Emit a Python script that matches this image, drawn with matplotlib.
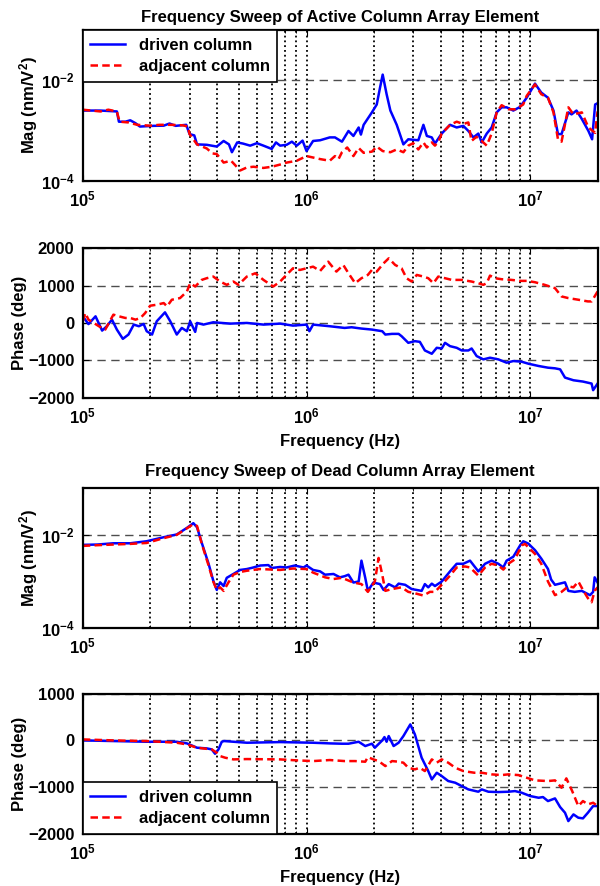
import matplotlib
matplotlib.use('Agg')
import matplotlib.pyplot as plt
from matplotlib.ticker import LogLocator, FixedLocator, FuncFormatter, NullFormatter

plt.rcParams['font.family'] = ['Liberation Sans', 'DejaVu Sans']
plt.rcParams['font.weight'] = 'bold'
plt.rcParams['mathtext.fontset'] = 'custom'
for k in ['rm', 'bf', 'it', 'sf']:
    plt.rcParams['mathtext.' + k] = 'Liberation Sans:bold'
plt.rcParams['mathtext.default'] = 'rm'

# ---- Active column: magnitude (nm/V^2) ----
f_am_drv = [1.0e5, 1.2e5, 1.42e5, 1.45e5, 1.55e5, 1.63e5, 1.72e5, 1.8e5, 2.07e5, 2.3e5, 2.44e5, 2.6e5,
            2.9e5, 3.0e5, 3.15e5, 3.24e5, 3.58e5, 3.97e5, 4.26e5, 4.5e5, 4.64e5, 4.9e5, 5.2e5, 5.6e5,
            6.0e5, 6.42e5, 6.99e5, 7.3e5, 7.62e5, 8.15e5, 8.6e5, 9.04e5, 9.6e5, 1.0e6, 1.07e6, 1.15e6,
            1.27e6, 1.34e6, 1.44e6, 1.54e6, 1.62e6, 1.71e6, 1.75e6, 1.8e6, 1.96e6, 2.06e6, 2.13e6,
            2.19e6, 2.28e6, 2.37e6, 2.53e6, 2.71e6, 2.85e6, 3.16e6, 3.33e6, 3.45e6, 3.63e6, 3.75e6,
            4.02e6, 4.38e6, 4.69e6, 5.02e6, 5.29e6, 5.57e6, 5.86e6, 6.07e6, 6.39e6, 6.72e6, 7.08e6,
            7.45e6, 7.84e6, 8.4e6, 9.0e6, 9.64e6, 1.05e7, 1.12e7, 1.2e7, 1.27e7, 1.33e7, 1.38e7,
            1.48e7, 1.53e7, 1.61e7, 1.7e7, 1.82e7, 1.89e7, 1.95e7, 2.0e7]
m_am_drv = [2.5e-3, 2.5e-3, 2.4e-3, 1.5e-3, 1.5e-3, 1.6e-3, 1.4e-3, 1.2e-3, 1.24e-3, 1.25e-3, 1.38e-3, 1.24e-3,
            1.3e-3, 8.5e-4, 8e-4, 5.3e-4, 5.2e-4, 4.8e-4, 6.2e-4, 5.3e-4, 3.7e-4, 5.8e-4, 5.5e-4, 5.0e-4,
            5.6e-4, 5.0e-4, 4.3e-4, 5.8e-4, 5.0e-4, 5.2e-4, 6.0e-4, 5.0e-4, 6.3e-4, 3.9e-4, 6.2e-4, 6.4e-4,
            7.3e-4, 7.3e-4, 6.0e-4, 9.8e-4, 7.8e-4, 1.15e-3, 8.3e-4, 1.3e-3, 2.3e-3, 3.3e-3, 7.1e-3,
            1.3e-2, 5.3e-3, 2.5e-3, 1.3e-3, 5.3e-4, 6.7e-4, 6.4e-4, 1.3e-3, 7.8e-4, 7.3e-4, 5.5e-4,
            8.7e-4, 1.3e-3, 1.15e-3, 1.24e-3, 9.8e-4, 7.3e-4, 8.7e-4, 5.8e-4, 8.7e-4, 1.15e-3, 2.3e-3,
            2.9e-3, 2.9e-3, 2.5e-3, 2.95e-3, 4.5e-3, 8.6e-3, 5.7e-3, 4.5e-3, 2.5e-3, 8.5e-4, 8.5e-4,
            2.3e-3, 2.1e-3, 2.5e-3, 1.7e-3, 9.8e-4, 6.7e-4, 3.3e-3, 3.5e-3]
f_am_adj = [1.0e5, 1.2e5, 1.3e5, 1.42e5, 1.46e5, 1.6e5, 1.75e5, 2.0e5, 2.2e5, 2.5e5, 2.8e5, 2.95e5,
            3.0e5, 3.24e5, 3.58e5, 3.8e5, 3.97e5, 4.26e5, 4.6e5, 5.05e5, 5.41e5, 5.79e5, 6.42e5, 6.99e5,
            7.62e5, 8.15e5, 9.04e5, 1.0e6, 1.07e6, 1.15e6, 1.27e6, 1.34e6, 1.39e6, 1.44e6, 1.52e6,
            1.62e6, 1.71e6, 1.8e6, 1.96e6, 2.06e6, 2.19e6, 2.37e6, 2.53e6, 2.71e6, 2.85e6, 3.0e6,
            3.16e6, 3.33e6, 3.45e6, 3.63e6, 3.75e6, 3.9e6, 4.02e6, 4.38e6, 4.69e6, 5.02e6, 5.29e6,
            5.46e6, 5.75e6, 6.07e6, 6.39e6, 6.72e6, 7.08e6, 7.45e6, 8.0e6, 8.6e6, 9.3e6, 9.64e6,
            1.05e7, 1.12e7, 1.2e7, 1.27e7, 1.33e7, 1.38e7, 1.48e7, 1.56e7, 1.7e7, 1.82e7, 1.95e7, 2.0e7]
m_am_adj = [2.6e-3, 2.4e-3, 2.6e-3, 2.4e-3, 1.5e-3, 1.45e-3, 1.3e-3, 1.25e-3, 1.3e-3, 1.3e-3, 1.27e-3, 1.2e-3,
            8.5e-4, 5.3e-4, 4.4e-4, 3.5e-4, 3.4e-4, 2.3e-4, 2.5e-4, 1.6e-4, 1.84e-4, 1.9e-4, 1.8e-4, 1.9e-4,
            2.1e-4, 2.3e-4, 2.5e-4, 3.1e-4, 2.9e-4, 2.7e-4, 2.5e-4, 3.1e-4, 2.7e-4, 3.7e-4, 4.6e-4,
            3.1e-4, 4.5e-4, 3.6e-4, 3.8e-4, 4.8e-4, 3.9e-4, 3.7e-4, 4.2e-4, 3.7e-4, 5.0e-4, 5.6e-4,
            4.2e-4, 5.8e-4, 4.6e-4, 5.8e-4, 5.0e-4, 6.2e-4, 8.7e-4, 1.3e-3, 1.5e-3, 1.35e-3, 1.45e-3,
            6.2e-4, 7.5e-4, 6.2e-4, 5.0e-4, 8.7e-4, 2.3e-3, 3.2e-3, 2.65e-3, 2.65e-3, 3.3e-3, 4.9e-3,
            8.3e-3, 5.3e-3, 4.5e-3, 2.3e-3, 6.7e-4, 6.0e-4, 2.9e-3, 2.1e-3, 2.3e-3, 1.15e-3, 9.0e-4, 2.4e-3]

# ---- Active column: phase (deg) ----
f_ap_drv = [1.0e5, 1.06e5, 1.14e5, 1.22e5, 1.28e5, 1.35e5, 1.42e5, 1.51e5, 1.6e5, 1.69e5, 1.78e5, 1.87e5,
            1.93e5, 2.04e5, 2.14e5, 2.33e5, 2.46e5, 2.63e5, 2.77e5, 2.92e5, 3.02e5, 3.18e5, 3.24e5,
            3.46e5, 3.83e5, 4.56e5, 5.41e5, 6.42e5, 7.62e5, 8.7e5, 1.0e6, 1.03e6, 1.07e6, 1.27e6,
            1.48e6, 1.59e6, 1.76e6, 1.96e6, 2.18e6, 2.25e6, 2.41e6, 2.58e6, 2.66e6, 2.85e6, 3.05e6,
            3.21e6, 3.38e6, 3.63e6, 3.82e6, 4.02e6, 4.16e6, 4.38e6, 4.69e6, 4.94e6, 5.29e6, 5.47e6,
            5.76e6, 6.17e6, 6.61e6, 7.2e6, 7.84e6, 8.4e6, 9.15e6, 9.8e6, 1.09e7, 1.2e7, 1.29e7,
            1.36e7, 1.43e7, 1.56e7, 1.72e7, 1.88e7, 1.91e7, 2.0e7]
p_ap_drv = [177, -30, 177, -204, -88, 88, -177, -425, -310, -44, -88, -27,
            -221, -310, 44, 283, 44, -310, -133, -221, 44, -239, 0,
            -44, 18, -18, 0, -44, -18, -71, -44, -221, -44, -88,
            -133, -115, -150, -177, -221, -310, -292, -292, -354, -531, -487,
            -505, -735, -823, -664, -682, -531, -620, -664, -735, -735, -682,
            -885, -973, -929, -973, -1062, -1018, -1035, -1088, -1150, -1195, -1212,
            -1239, -1460, -1531, -1566, -1619, -1796, -1619]
f_ap_adj = [1.0e5, 1.026e5, 1.06e5, 1.12e5, 1.18e5, 1.26e5, 1.37e5, 1.45e5, 1.55e5, 1.63e5, 1.72e5, 1.81e5,
            1.9e5, 2.0e5, 2.14e5, 2.3e5, 2.38e5, 2.5e5, 2.72e5, 2.92e5, 3.02e5, 3.18e5, 3.4e5, 3.58e5,
            3.83e5, 4.11e5, 4.4e5, 4.71e5, 4.96e5, 5.41e5, 5.9e5, 6.42e5, 7.1e5, 7.62e5, 8.0e5, 8.7e5,
            9.35e5, 1.0e6, 1.07e6, 1.15e6, 1.25e6, 1.36e6, 1.46e6, 1.54e6, 1.65e6, 1.76e6, 1.88e6,
            1.96e6, 2.06e6, 2.21e6, 2.33e6, 2.49e6, 2.66e6, 2.8e6, 2.95e6, 3.11e6, 3.33e6, 3.5e6,
            3.69e6, 3.88e6, 4.16e6, 4.46e6, 4.94e6, 5.47e6, 5.86e6, 6.17e6, 6.39e6, 6.61e6, 6.96e6,
            7.45e6, 8.25e6, 9.0e6, 9.64e6, 1.05e7, 1.16e7, 1.29e7, 1.38e7, 1.48e7, 1.64e7, 1.81e7,
            1.88e7, 2.0e7]
p_ap_adj = [44, 265, 88, 0, -88, -177, 221, 177, 133, 133, 88, 133,
            265, 460, 487, 531, 443, 620, 664, 840, 1062, 973, 1150, 1195,
            1239, 1106, 1018, 1106, 1018, 1239, 1327, 1150, 973, 1106, 1239, 1460,
            1416, 1460, 1504, 1389, 1637, 1372, 1549, 1327, 1062, 1195, 1283,
            1416, 1372, 1593, 1726, 1549, 1460, 1195, 1106, 1283, 1239, 1195,
            1062, 1239, 1195, 1150, 1150, 1106, 1062, 1018, 1062, 1265, 1195,
            1168, 1150, 1124, 1124, 1088, 1018, 929, 708, 664, 620, 575,
            575, 840]

# ---- Dead column: magnitude (nm/V^2) ----
f_dm_drv = [1.0e5, 1.16e5, 1.37e5, 1.63e5, 1.93e5, 2.3e5, 2.63e5, 2.92e5, 3.12e5, 3.24e5, 3.4e5, 3.65e5,
            3.83e5, 3.97e5, 4.11e5, 4.26e5, 4.4e5, 4.71e5, 5.05e5, 5.41e5, 5.79e5, 6.2e5, 6.75e5,
            6.99e5, 7.62e5, 8.15e5, 8.86e5, 9.7e5, 1.0e6, 1.07e6, 1.15e6, 1.21e6, 1.32e6, 1.41e6,
            1.48e6, 1.54e6, 1.62e6, 1.71e6, 1.76e6, 1.83e6, 1.88e6, 1.99e6, 2.13e6, 2.21e6, 2.33e6,
            2.49e6, 2.58e6, 2.76e6, 2.95e6, 3.27e6, 3.38e6, 3.5e6, 3.63e6, 3.75e6, 4.02e6, 4.38e6,
            4.69e6, 5.02e6, 5.38e6, 5.86e6, 6.28e6, 6.72e6, 7.2e6, 7.58e6, 7.84e6, 8.4e6, 9.0e6,
            9.3e6, 9.8e6, 1.05e7, 1.12e7, 1.2e7, 1.24e7, 1.29e7, 1.43e7, 1.48e7, 1.58e7, 1.7e7,
            1.78e7, 1.85e7, 1.91e7, 1.94e7, 2.0e7]
m_dm_drv = [6.1e-3, 6.2e-3, 6.6e-3, 6.6e-3, 7.3e-3, 8.9e-3, 1.02e-2, 1.41e-2, 1.78e-2, 1.45e-2, 6.8e-3, 2.4e-3,
            1.04e-3, 6.6e-4, 9.6e-4, 8.0e-4, 1.2e-3, 1.45e-3, 1.77e-3, 1.85e-3, 2.0e-3, 2.2e-3, 2.25e-3,
            1.95e-3, 2.05e-3, 2.0e-3, 2.2e-3, 2.0e-3, 2.2e-3, 1.77e-3, 1.65e-3, 1.4e-3, 1.45e-3, 1.23e-3,
            1.3e-3, 1.4e-3, 9.5e-4, 1.0e-3, 2.8e-3, 1.2e-3, 6.3e-4, 9.5e-4, 8.8e-4, 6.6e-4, 8.8e-4,
            7.5e-4, 9.0e-4, 8.5e-4, 6.9e-4, 6.3e-4, 8.8e-4, 7.5e-4, 9.0e-4, 8.0e-4, 1.0e-3, 1.65e-3,
            2.4e-3, 2.4e-3, 2.8e-3, 1.65e-3, 2.4e-3, 2.8e-3, 2.4e-3, 2.0e-3, 2.8e-3, 3.4e-3, 5.9e-3,
            7.3e-3, 6.5e-3, 4.7e-3, 3.1e-3, 1.86e-3, 1.1e-3, 8.5e-4, 9.6e-4, 6.3e-4, 6.0e-4, 6.3e-4,
            5.6e-4, 5.1e-4, 6.0e-4, 1.23e-3, 9.5e-4]
f_dm_adj = [1.0e5, 1.16e5, 1.37e5, 1.63e5, 1.93e5, 2.3e5, 2.63e5, 2.92e5, 3.12e5, 3.24e5, 3.4e5, 3.65e5,
            3.83e5, 3.97e5, 4.11e5, 4.26e5, 4.48e5, 4.71e5, 5.05e5, 5.41e5, 6.2e5, 7.62e5, 8.7e5,
            1.0e6, 1.07e6, 1.21e6, 1.32e6, 1.44e6, 1.62e6, 1.76e6, 1.88e6, 2.02e6, 2.1e6, 2.18e6,
            2.25e6, 2.41e6, 2.66e6, 2.85e6, 3.05e6, 3.33e6, 3.56e6, 3.75e6, 4.02e6, 4.38e6, 4.69e6,
            5.11e6, 5.38e6, 5.86e6, 6.28e6, 6.72e6, 7.2e6, 7.58e6, 7.98e6, 8.55e6, 9.15e6, 9.47e6,
            1.05e7, 1.12e7, 1.2e7, 1.29e7, 1.38e7, 1.48e7, 1.56e7, 1.64e7, 1.72e7, 1.81e7, 1.88e7,
            1.94e7, 2.0e7]
m_dm_adj = [5.8e-3, 6.0e-3, 6.2e-3, 6.4e-3, 6.7e-3, 8.5e-3, 1.0e-2, 1.38e-2, 1.7e-2, 1.55e-2, 6.5e-3, 2.2e-3,
            1.0e-3, 6.6e-4, 7.5e-4, 6.3e-4, 9.6e-4, 1.4e-3, 1.6e-3, 1.7e-3, 1.85e-3, 1.77e-3, 1.9e-3,
            1.85e-3, 1.55e-3, 1.23e-3, 1.13e-3, 1.2e-3, 9.5e-4, 8.8e-4, 6.0e-4, 1.0e-3, 3.2e-3, 1.4e-3,
            6.3e-4, 6.9e-4, 7.5e-4, 6.0e-4, 5.6e-4, 5.0e-4, 6.0e-4, 6.0e-4, 8.5e-4, 1.34e-3, 2.0e-3,
            2.1e-3, 2.0e-3, 1.34e-3, 2.0e-3, 2.4e-3, 2.2e-3, 1.8e-3, 2.4e-3, 3.0e-3, 5.9e-3, 6.4e-3,
            3.9e-3, 2.4e-3, 1.0e-3, 5.1e-4, 6.0e-4, 7.9e-4, 7.5e-4, 1.0e-3, 6.6e-4, 4.4e-4, 3.6e-4,
            6.3e-4, 7.5e-4]

# ---- Dead column: phase (deg) ----
f_dp_drv = [1.0e5, 1.37e5, 1.93e5, 2.63e5, 2.92e5, 3.24e5, 3.58e5, 3.77e5, 3.9e5, 4.04e5, 4.18e5, 4.28e5,
            5.41e5, 7.62e5, 1.07e6, 1.27e6, 1.44e6, 1.54e6, 1.71e6, 1.83e6, 1.96e6, 2.02e6, 2.18e6,
            2.23e6, 2.28e6, 2.33e6, 2.45e6, 2.58e6, 2.71e6, 2.91e6, 3.05e6, 3.27e6, 3.5e6, 3.63e6,
            3.82e6, 4.02e6, 4.3e6, 4.62e6, 4.94e6, 5.29e6, 5.86e6, 6.07e6, 6.5e6, 7.2e6, 7.98e6,
            8.55e6, 9.15e6, 1.0e7, 1.09e7, 1.14e7, 1.2e7, 1.29e7, 1.36e7, 1.43e7, 1.48e7, 1.56e7,
            1.64e7, 1.72e7, 1.81e7, 1.91e7, 2.0e7]
p_dp_drv = [0, -14, -29, -29, -64, -157, -171, -193, -286, -193, -29, -14,
            -50, -36, -50, -64, -71, -71, -29, -121, -71, -157, 0,
            71, -29, 93, -121, -50, 93, 343, 129, -371, -657, -836,
            -693, -764, -871, -907, -979, -1050, -1100, -1050, -1100, -1107, -1100,
            -1086, -1121, -1193, -1229, -1214, -1300, -1243, -1429, -1550, -1729, -1586,
            -1657, -1671, -1550, -1407, -1407]
f_dp_adj = [1.0e5, 1.37e5, 1.93e5, 2.63e5, 2.92e5, 3.24e5, 3.77e5, 3.97e5, 4.11e5, 4.33e5, 4.71e5, 5.41e5,
            7.62e5, 9.04e5, 1.07e6, 1.27e6, 1.48e6, 1.65e6, 1.83e6, 1.88e6, 1.99e6, 2.1e6, 2.25e6,
            2.41e6, 2.58e6, 2.71e6, 2.85e6, 3.05e6, 3.21e6, 3.38e6, 3.63e6, 3.82e6, 4.02e6, 4.3e6,
            4.62e6, 5.02e6, 5.62e6, 6.07e6, 6.72e6, 7.45e6, 7.98e6, 8.85e6, 9.64e6, 1.05e7, 1.2e7,
            1.29e7, 1.38e7, 1.45e7, 1.54e7, 1.64e7, 1.72e7, 1.81e7, 1.91e7, 2.0e7]
p_dp_adj = [21, 0, -14, -50, -86, -157, -193, -264, -336, -371, -407, -400,
            -407, -428, -443, -421, -443, -443, -457, -357, -407, -443, -550,
            -443, -457, -478, -586, -621, -586, -657, -407, -478, -407, -478,
            -586, -657, -693, -693, -728, -743, -728, -743, -800, -857, -871,
            -857, -1014, -814, -1086, -1407, -1300, -1371, -1336, -1407]

labels = ['driven column', 'adjacent column']
titles = ['Frequency Sweep of Active Column Array Element',
          'Frequency Sweep of Dead Column Array Element']

fig = plt.figure(figsize=(6, 8.86), dpi=100)
L, W = 0.138, 0.858
ax1 = fig.add_axes([L, 0.796, W, 0.170])
ax2 = fig.add_axes([L, 0.551, W, 0.169])
ax3 = fig.add_axes([L, 0.291, W, 0.158])
ax4 = fig.add_axes([L, 0.059, W, 0.158])

def pow_fmt(v, pos):
    import math
    return r'$10^{%d}$' % round(math.log10(v))

def style(ax, mag):
    ax.set_xscale('log')
    ax.set_xlim(1e5, 2e7)
    ax.xaxis.set_major_locator(FixedLocator([1e5, 1e6, 1e7]))
    ax.xaxis.set_major_formatter(FuncFormatter(pow_fmt))
    ax.xaxis.set_minor_locator(LogLocator(base=10, subs=range(2, 10), numticks=20))
    ax.xaxis.set_minor_formatter(NullFormatter())
    if mag:
        ax.set_yscale('log')
        ax.set_ylim(1e-4, 1e-1)
        ax.yaxis.set_major_locator(FixedLocator([1e-4, 1e-2]))
        ax.yaxis.set_major_formatter(FuncFormatter(pow_fmt))
        ax.yaxis.set_minor_locator(FixedLocator([]))
        ax.set_ylabel('Mag (nm/V$^2$)', fontsize=12, fontweight='bold')
        ax.yaxis.set_label_coords(-0.083, 0.5)
    else:
        ax.set_ylabel('Phase (deg)', fontsize=12, fontweight='bold')
        ax.yaxis.set_label_coords(-0.109, 0.5)
    ax.grid(True, which='both', axis='x', color='k', linestyle=':', linewidth=1.3)
    ax.grid(True, which='major', axis='y', color='0.3', linestyle=(0, (6, 4)), linewidth=1.0)
    ax.set_axisbelow(True)
    ax.tick_params(which='both', direction='in', top=True, right=True, labelsize=12)
    ax.tick_params(which='major', length=4, pad=6)
    ax.tick_params(which='minor', length=2)
    for s in ax.spines.values():
        s.set_linewidth(1.6)

def draw(ax, fd, yd, fa, ya):
    ax.plot(fd, yd, color='#0000ff', linewidth=1.8, label=labels[0])
    ax.plot(fa, ya, color='#ff0000', linewidth=1.8, linestyle=(0, (3.0, 1.7)), label=labels[1])

draw(ax1, f_am_drv, m_am_drv, f_am_adj, m_am_adj)
draw(ax2, f_ap_drv, p_ap_drv, f_ap_adj, p_ap_adj)
draw(ax3, f_dm_drv, m_dm_drv, f_dm_adj, m_dm_adj)
draw(ax4, f_dp_drv, p_dp_drv, f_dp_adj, p_dp_adj)

style(ax1, True)
style(ax2, False)
style(ax3, True)
style(ax4, False)

ax2.set_ylim(-2000, 2000)
ax2.set_yticks([-2000, -1000, 0, 1000, 2000])
ax4.set_ylim(-2000, 1000)
ax4.set_yticks([-2000, -1000, 0, 1000])

ax1.set_title(titles[0], fontsize=12, fontweight='bold', pad=6)
ax3.set_title(titles[1], fontsize=12, fontweight='bold', pad=9)
ax2.set_xlabel('Frequency (Hz)', fontsize=12, fontweight='bold', labelpad=6)
ax4.set_xlabel('Frequency (Hz)', fontsize=12, fontweight='bold', labelpad=6)

for ax, loc in [(ax1, 'upper left'), (ax4, 'lower left')]:
    leg = ax.legend(loc=loc, borderaxespad=0, fancybox=False, edgecolor='k', framealpha=1,
                    fontsize=12, handlelength=2.1, borderpad=0.45, labelspacing=0.4)
    leg.get_frame().set_linewidth(1.2)

fig.savefig('out.png', dpi=100)
